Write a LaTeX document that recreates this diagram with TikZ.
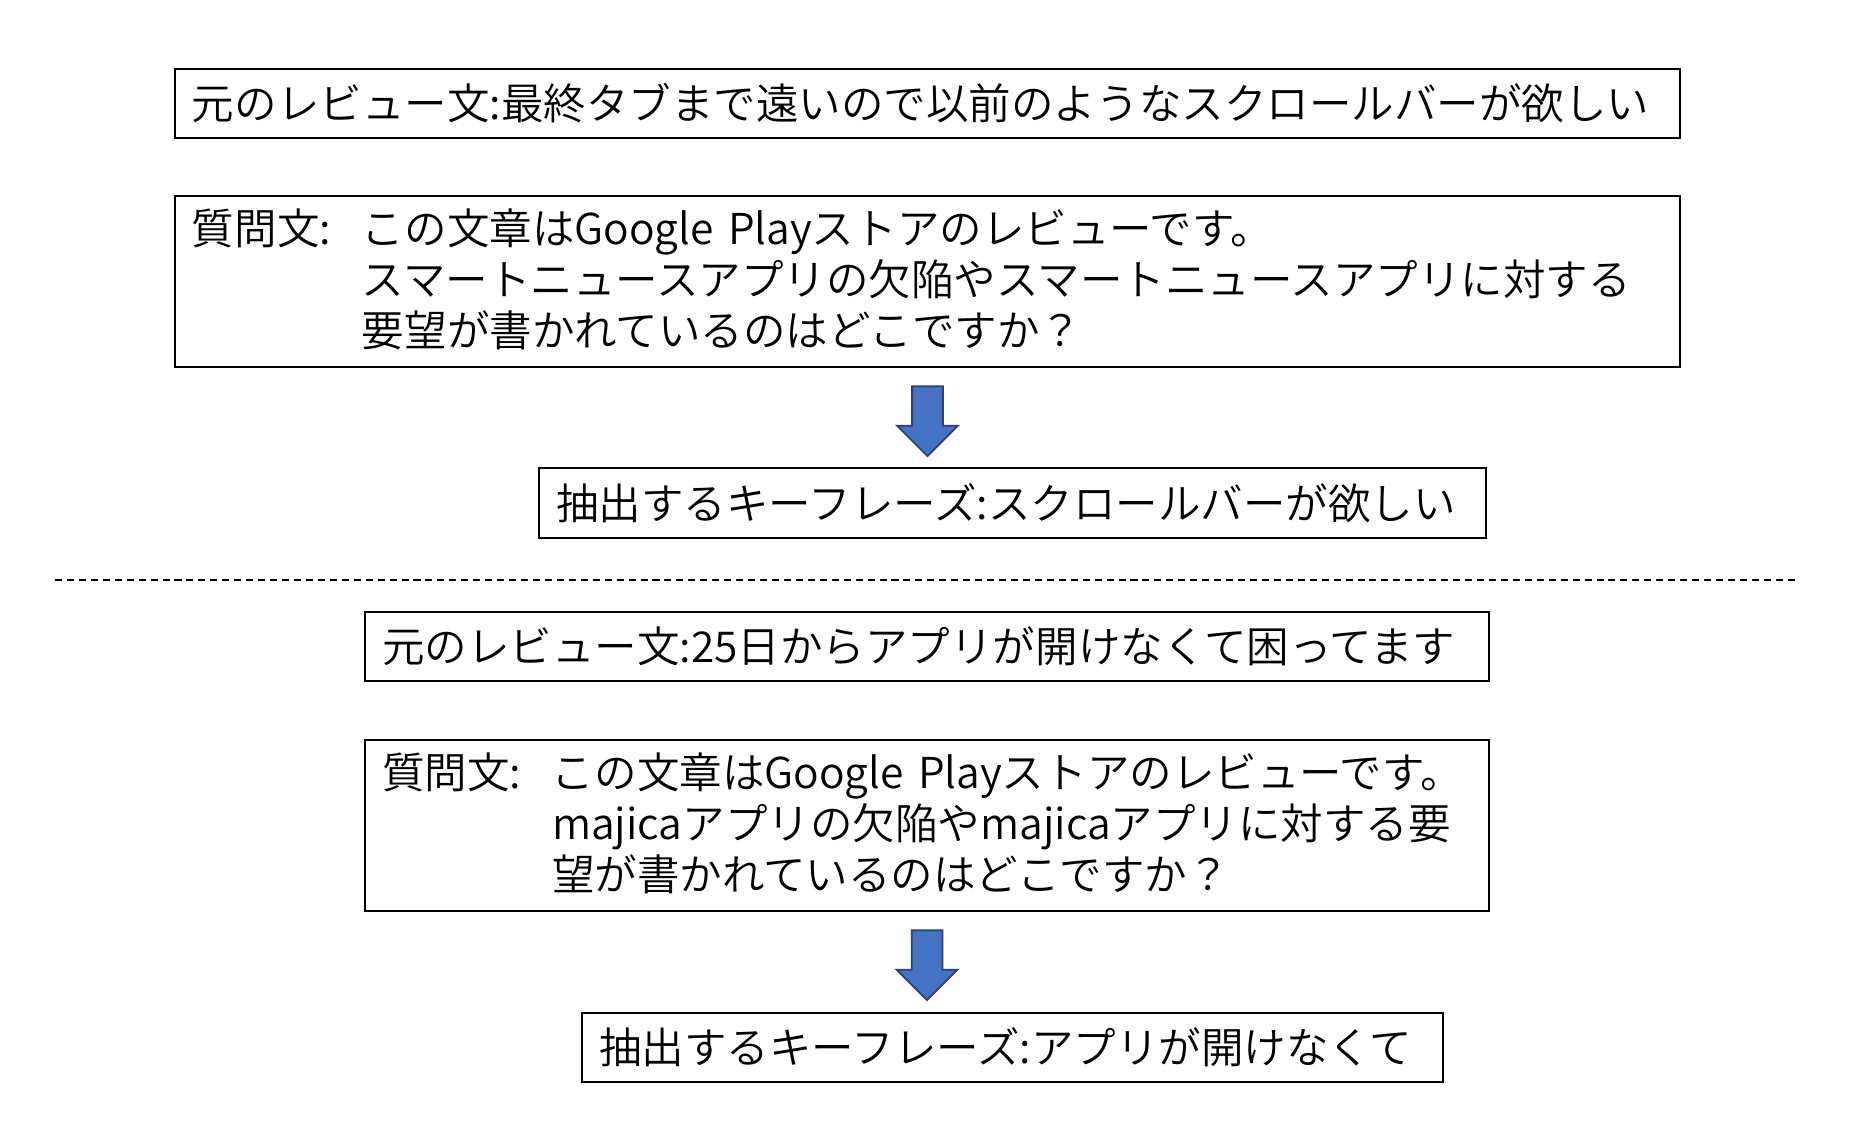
\documentclass[tikz,border=0pt]{standalone}
\usepackage{fontspec}
\setmainfont{Noto Sans CJK JP}[UprightFont = * DemiLight]
\usepackage{tikz}
\usetikzlibrary{shapes,arrows,positioning}

\definecolor{ArrowBlue}{HTML}{4472C4}
\definecolor{ArrowLine}{HTML}{2F3F6F}

\begin{document}
\begin{tikzpicture}
			\tikzstyle{Box}		= [draw, line width=0.75pt, inner xsep=0.17cm, inner ysep=0pt, align=left, font=\fontsize{12.1pt}{14.4pt}\selectfont]
			\tikzstyle{Line}	= [minimum height=0.69cm]
			\tikzstyle{Tall}	= [minimum height=1.71cm]
			\tikzstyle{Down}	= [single arrow, draw=ArrowLine, fill=ArrowBlue, line width=0.5pt, rotate=-90, minimum height=0.70cm, inner xsep=0pt, inner ysep=0.145cm, single arrow head extend=0.15cm]
			\tikzstyle{Split}	= [line width=0.7pt, dash pattern=on 2pt off 1.4pt]
			
			\useasboundingbox (0, 0) rectangle (18.64, -11.30);
			
			% upper example
			\node (review1) at (9.275, -1.035) [Box, Line, text width=14.71cm] {元のレビュー文:最終タブまで遠いので以前のようなスクロールバーが欲しい};
			\node (question1) at (9.275, -2.815) [Box, Tall, text width=14.71cm] {\begin{tabular}{@{}p{1.70cm}@{}l@{}}
				\rule{0pt}{12.5pt}質問文: & この文章はGoogle Playストアのレビューです。\\
				& スマートニュースアプリの欠陥やスマートニュースアプリに対する\\
				& 要望が書かれているのはどこですか？
			\end{tabular}};
			\node (arrow1) [Down, below=0.17cm of question1.south, anchor=tail] {};
			\node (phrase1) at (10.125, -5.03) [Box, Line, minimum height=0.70cm, text width=9.13cm] {抽出するキーフレーズ:スクロールバーが欲しい};
			
			\coordinate (splitL) at (0.55, -5.80);
			\coordinate (splitR) at (17.97, -5.80);
			\draw [-] (splitL) to (splitR) [Split];
			
			% lower example
			\node (review2) at (9.27, -6.465) [Box, Line, text width=10.90cm] {元のレビュー文:25日からアプリが開けなくて困ってます};
			\node (question2) at (9.27, -8.255) [Box, Tall, text width=10.90cm] {\begin{tabular}{@{}p{1.70cm}@{}l@{}}
				\rule{0pt}{12.5pt}質問文: & この文章はGoogle Playストアのレビューです。\\
				& majicaアプリの欠陥やmajicaアプリに対する要\\
				& 望が書かれているのはどこですか？
			\end{tabular}};
			\node (arrow2) [Down, below=0.17cm of question2.south, anchor=tail] {};
			\node (phrase2) at (10.125, -10.475) [Box, Line, text width=8.27cm] {抽出するキーフレーズ:アプリが開けなくて};
\end{tikzpicture}
\end{document}
